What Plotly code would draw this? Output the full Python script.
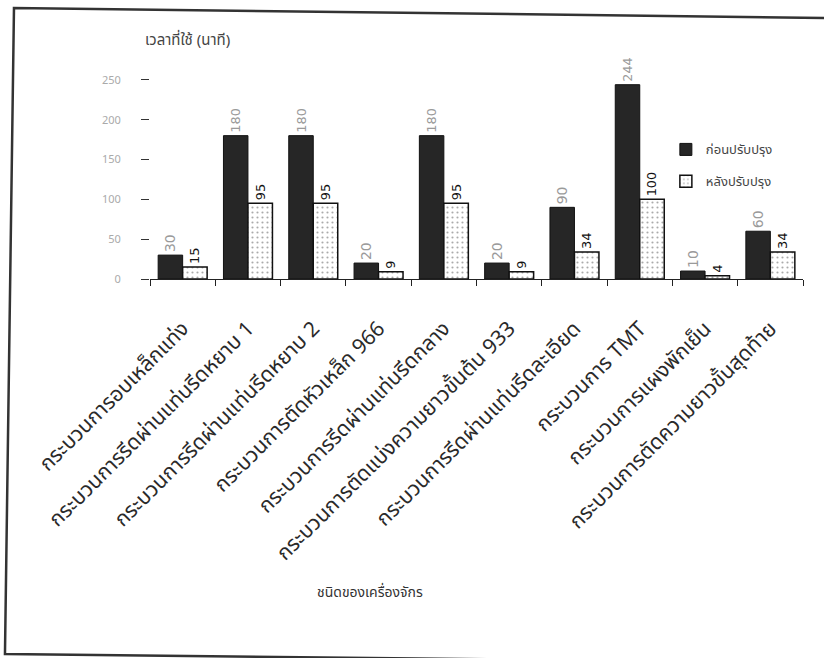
import plotly.graph_objects as go

# Machine / process names along the x axis
categories = [
    "กระบวนการอบเหล็กแท่ง",
    "กระบวนการรีดผ่านแท่นรีดหยาบ 1",
    "กระบวนการรีดผ่านแท่นรีดหยาบ 2",
    "กระบวนการตัดหัวเหล็ก 966",
    "กระบวนการรีดผ่านแท่นรีดกลาง",
    "กระบวนการตัดแบ่งความยาวขั้นต้น 933",
    "กระบวนการรีดผ่านแท่นรีดละเอียด",
    "กระบวนการ TMT",
    "กระบวนการแผงพักเย็น",
    "กระบวนการตัดความยาวขั้นสุดท้าย",
]

# Time used (minutes) before and after the improvement
before = [30, 180, 180, 20, 180, 20, 90, 244, 10, 60]
after = [15, 95, 95, 9, 95, 9, 34, 100, 4, 34]

y_ticks = [0, 50, 100, 150, 200, 250]

THAI = "Noto Sans Thai, Tahoma, Noto Sans, sans-serif"

fig = go.Figure()
fig.add_trace(go.Bar(
    x=categories, y=before, name="ก่อนปรับปรุง", legendgroup="a",
    marker=dict(color="#262626", line=dict(color="#111111", width=1)),
    text=[str(v) for v in before], textposition="outside", textangle=-90,
    textfont=dict(color="#9a9a9a", size=14, family="DejaVu Sans"),
    cliponaxis=False,
))
fig.add_trace(go.Bar(
    x=categories, y=after, name="หลังปรับปรุง", legendgroup="b",
    marker=dict(color="white", line=dict(color="#111111", width=1.5),
                pattern=dict(shape=".", fgcolor="#555555", bgcolor="white",
                             size=5, solidity=0.15)),
    text=[str(v) for v in after], textposition="outside", textangle=-90,
    textfont=dict(color="#111111", size=13, family="DejaVu Sans"),
    cliponaxis=False,
))

fig.update_layout(
    width=824, height=658,
    margin=dict(l=150, r=21, t=60, b=379),
    paper_bgcolor="white", plot_bgcolor="white",
    barmode="group", bargap=0.25, bargroupgap=0,
    font=dict(family=THAI, color="#222222"),
    showlegend=True,
    legend=dict(x=0.79, y=0.66, xanchor="left", yanchor="top",
                font=dict(size=13, color="#444444", family=THAI),
                tracegroupgap=12, bgcolor="rgba(0,0,0,0)"),
    xaxis=dict(
        showline=True, linecolor="#222222", linewidth=1,
        ticks="outside", tickson="boundaries", ticklen=6, tickcolor="#222222",
        tickangle=-45, tickfont=dict(size=21, color="#2a2a2a", family=THAI),
        ticklabelstandoff=28,
    ),
    yaxis=dict(
        range=[0, 275], tickvals=y_ticks, showgrid=False, zeroline=False,
        showline=False, ticks="outside", ticklen=8, tickcolor="#333333",
        tickfont=dict(size=11, color="#aaaaaa"), ticklabelstandoff=18,
    ),
    annotations=[
        dict(text="เวลาที่ใช้ (นาที)", xref="paper", yref="paper",
             x=-0.01, y=1.09, xanchor="left", yanchor="middle",
             showarrow=False, font=dict(size=15, color="#444444", family=THAI)),
        dict(text="ชนิดของเครื่องจักร", xref="paper", yref="paper",
             x=0.337, y=-1.43, xanchor="center", yanchor="middle",
             showarrow=False, font=dict(size=14, color="#333333", family=THAI)),
    ],
    shapes=[
        # outer frame of the chart (top, left and bottom edges)
        dict(type="path", xref="paper", yref="paper",
             path="M 1.0413 1.1918 L -0.2083 1.2374 L -0.2221 -1.7123 L 1.0413 -1.7534",
             line=dict(color="#333333", width=2.5)),
    ],
)

fig.write_html("out.html")
